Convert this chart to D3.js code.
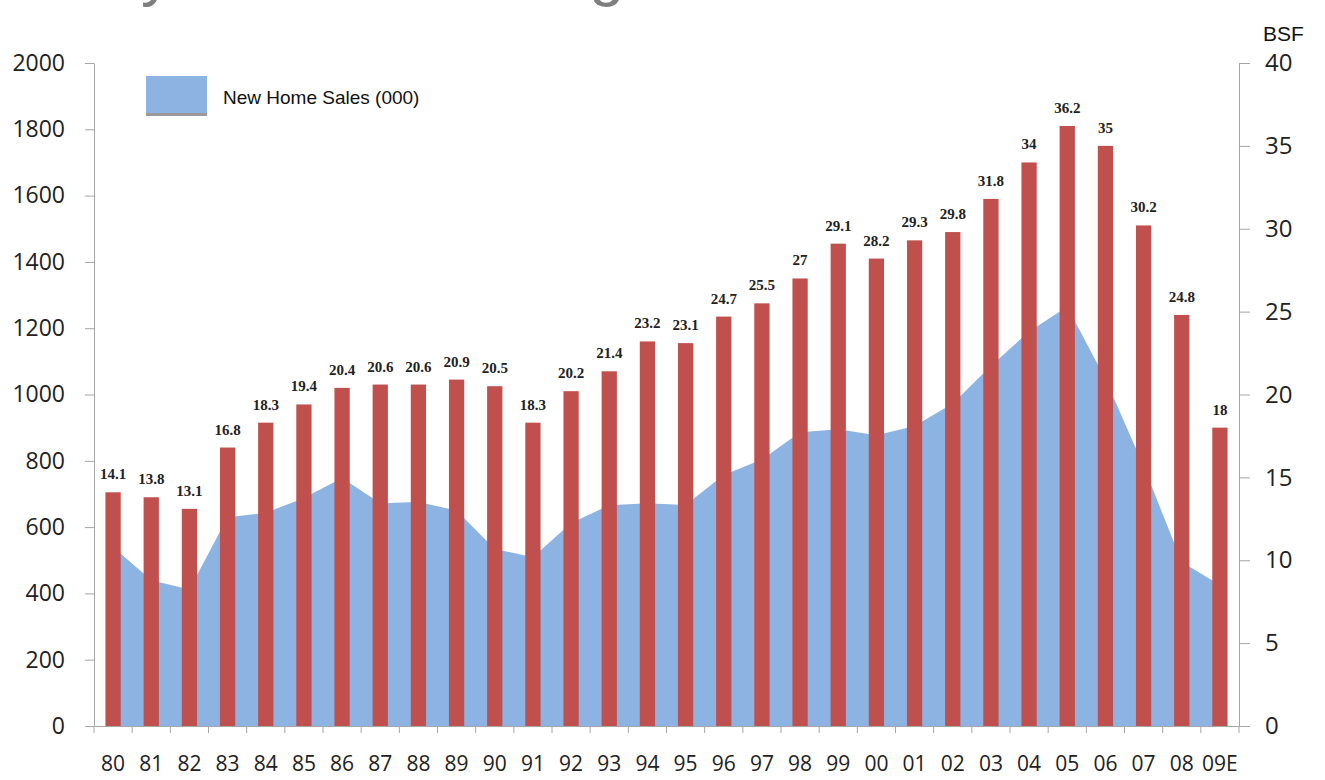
<!DOCTYPE html>
<html>
<head>
<meta charset="utf-8">
<script src="https://cdn.jsdelivr.net/npm/d3@7"></script>
<style>
  body { margin: 0; background: #fff; }
  svg { display: block; }
</style>
</head>
<body>
<svg width="1325" height="780"></svg>
<script>
const years = ["80","81","82","83","84","85","86","87","88","89","90","91","92","93","94","95","96","97","98","99","00","01","02","03","04","05","06","07","08","09E"]
const bsf = [14.1,13.8,13.1,16.8,18.3,19.4,20.4,20.6,20.6,20.9,20.5,18.3,20.2,21.4,23.2,23.1,24.7,25.5,27,29.1,28.2,29.3,29.8,31.8,34,36.2,35,30.2,24.8,18]
const homeSales = [540,440,412,630,643,688,748,672,676,650,534,509,612,666,672,667,757,804,886,895,877,905,973,1086,1190,1265,1047,784,495,425]
const leftTicks = [0,200,400,600,800,1000,1200,1400,1600,1800,2000]
const rightTicks = [0,5,10,15,20,25,30,35,40]

const svg = d3.select("svg")
const plotLeft = 94, plotRight = 1239, plotTop = 63, plotBottom = 726

const x = d3.scaleBand().domain(years).range([plotLeft, plotRight]).padding(0)
const yL = d3.scaleLinear().domain([0, 2000]).range([plotBottom, plotTop])
const yR = d3.scaleLinear().domain([0, 40]).range([plotBottom, plotTop])
const bw = x.bandwidth()

// title (mostly above the visible area, only descenders show)
svg.append("text")
  .attr("x", 64)
  .attr("y", -6)
  .attr("font-family", "Liberation Sans, Arial, sans-serif")
  .attr("font-size", 63)
  .attr("fill", "#7f7f7f")
  .text("Key Driver: Housing")

svg.append("text")
  .attr("x", 1263)
  .attr("y", 41)
  .attr("font-family", "Liberation Sans, Arial, sans-serif")
  .attr("font-size", 21)
  .attr("fill", "#111")
  .text("BSF")

// area
const area = d3.area()
  .x((d, i) => x(years[i]) + bw / 2)
  .y0(yL(0))
  .y1(d => yL(d))

svg.append("path")
  .datum(homeSales)
  .attr("d", area)
  .attr("fill", "#8db3e2")

// bars
svg.selectAll(".bar")
  .data(bsf)
  .enter()
  .append("rect")
  .attr("class", "bar")
  .attr("x", (d, i) => x(years[i]) + bw * 0.3)
  .attr("width", bw * 0.4)
  .attr("y", d => yR(d))
  .attr("height", d => yR(0) - yR(d))
  .attr("fill", "#c0504d")

svg.selectAll(".lbl")
  .data(bsf)
  .enter()
  .append("text")
  .attr("class", "lbl")
  .attr("x", (d, i) => x(years[i]) + bw / 2)
  .attr("y", d => yR(d) - 13)
  .attr("text-anchor", "middle")
  .attr("font-family", "Liberation Serif, serif")
  .attr("font-weight", "bold")
  .attr("font-size", 15)
  .attr("fill", "#222")
  .text(d => d)

// axes
const axisColor = "#a6a6a6"
const tickFont = "Open Sans, sans-serif"

const gL = svg.append("g")
  .attr("transform", `translate(${plotLeft},0)`)
  .call(d3.axisLeft(yL).tickValues(leftTicks).tickFormat(d3.format("d")).tickSize(9).tickPadding(20).tickSizeOuter(0))
gL.select(".domain").attr("stroke", axisColor)
gL.selectAll(".tick line").attr("stroke", axisColor)
gL.selectAll(".tick text").attr("font-family", tickFont).attr("font-size", 23).attr("fill", "#222")

const gR = svg.append("g")
  .attr("transform", `translate(${plotRight},0)`)
  .call(d3.axisRight(yR).tickValues(rightTicks).tickSize(11).tickPadding(15).tickSizeOuter(0))
gR.select(".domain").attr("stroke", axisColor)
gR.selectAll(".tick line").attr("stroke", axisColor)
gR.selectAll(".tick text").attr("font-family", tickFont).attr("font-size", 24).attr("fill", "#222")

const gX = svg.append("g")
  .attr("transform", `translate(0,${plotBottom})`)
  .call(d3.axisBottom(x).tickSize(0).tickPadding(30).tickSizeOuter(0))
gX.select(".domain").attr("stroke", axisColor)
gX.selectAll(".tick text").attr("font-family", tickFont).attr("font-size", 21).attr("fill", "#222")

svg.selectAll(".xtick")
  .data(years.concat(["end"]))
  .enter()
  .append("line")
  .attr("class", "xtick")
  .attr("x1", d => d === "end" ? plotRight : x(d))
  .attr("x2", d => d === "end" ? plotRight : x(d))
  .attr("y1", plotBottom)
  .attr("y2", plotBottom + 7)
  .attr("stroke", axisColor)

// legend
svg.append("rect")
  .attr("x", 146).attr("y", 76).attr("width", 61).attr("height", 38)
  .attr("fill", "#8db3e2")
svg.append("rect")
  .attr("x", 146).attr("y", 113).attr("width", 61).attr("height", 3)
  .attr("fill", "#9a9a9a")
svg.append("text")
  .attr("x", 223).attr("y", 104)
  .attr("font-family", "Liberation Sans, Arial, sans-serif")
  .attr("font-size", 19)
  .attr("fill", "#111")
  .text("New Home Sales (000)")
</script>
</body>
</html>
